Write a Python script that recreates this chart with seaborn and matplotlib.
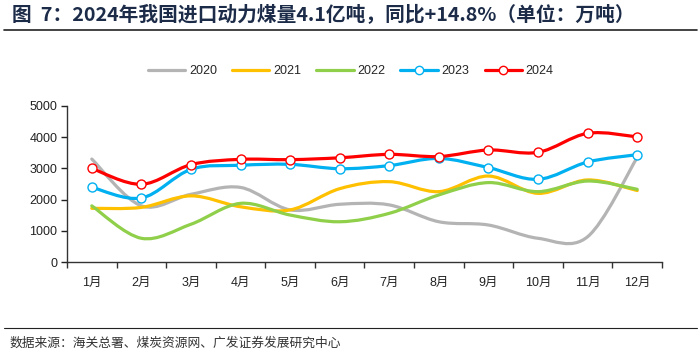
import numpy as np
import pandas as pd
import matplotlib
matplotlib.use("Agg")
import matplotlib.pyplot as plt
from matplotlib.path import Path
from matplotlib.patches import PathPatch
from matplotlib.lines import Line2D
import seaborn as sns

months = ['1月', '2月', '3月', '4月', '5月', '6月', '7月', '8月', '9月', '10月', '11月', '12月']
y2020 = [3300, 1800, 2170, 2390, 1670, 1850, 1830, 1290, 1185, 760, 810, 3350]
y2021 = [1720, 1750, 2120, 1770, 1670, 2350, 2575, 2255, 2755, 2200, 2630, 2290]
y2022 = [1800, 760, 1210, 1880, 1505, 1290, 1560, 2150, 2545, 2255, 2595, 2330]
y2023 = [2395, 2050, 2970, 3100, 3130, 2990, 3090, 3320, 3025, 2650, 3205, 3440]
y2024 = [3000, 2490, 3120, 3290, 3280, 3340, 3450, 3380, 3590, 3515, 4125, 4010]

series = {'2020': y2020, '2021': y2021, '2022': y2022, '2023': y2023, '2024': y2024}
colors = {'2020': '#b4b4b4', '2021': '#ffc000', '2022': '#8fcf4a',
          '2023': '#00b0f0', '2024': '#ff0000'}
with_marker = ['2023', '2024']

sns.set_theme(style='ticks')
plt.rcParams['font.family'] = ['Liberation Sans', 'Noto Sans CJK SC', 'DejaVu Sans']

fig = plt.figure(figsize=(7, 3.57), dpi=100)
ax = fig.add_axes([0.0957, 0.2661, 0.85, 0.437])

x = np.arange(len(months))


def smooth_path(xs, ys):
    # Excel-style smoothed line: bezier segments through every point
    pts = np.column_stack([xs, ys]).astype(float)
    n = len(pts)
    verts = [pts[0]]
    codes = [Path.MOVETO]
    for i in range(n - 1):
        p0 = pts[max(i - 1, 0)]
        p1 = pts[i]
        p2 = pts[i + 1]
        p3 = pts[min(i + 2, n - 1)]
        verts += [p1 + (p2 - p0) / 6, p2 - (p3 - p1) / 6, p2]
        codes += [Path.CURVE4] * 3
    return Path(verts, codes)


for name, vals in series.items():
    patch = PathPatch(smooth_path(x, vals), facecolor='none', edgecolor=colors[name],
                      lw=2.3, capstyle='round', joinstyle='round', zorder=2)
    ax.add_patch(patch)

df = pd.DataFrame({'x': np.tile(x, len(with_marker)),
                   'v': np.concatenate([series[k] for k in with_marker]),
                   'year': np.repeat(with_marker, len(x))})
for k in with_marker:
    sub = df[df['year'] == k]
    sns.scatterplot(data=sub, x='x', y='v', ax=ax, s=42, color='white',
                    edgecolor=colors[k], linewidth=1.0, zorder=3, legend=False)

ax.set_xlim(-0.5, 11.5)
ax.set_ylim(0, 5000)
ax.set_yticks(range(0, 5001, 1000))
ax.set_xticks(np.arange(-0.5, 12, 1))
ax.set_xticklabels([])
ax.set_xticks(x, minor=True)
ax.set_xticklabels(months, minor=True)
ax.tick_params(axis='x', which='minor', length=0, pad=11, labelsize=9, colors='#222222')
ax.tick_params(axis='x', which='major', length=4, width=1, direction='out', color='#333333')
ax.tick_params(axis='y', length=4, width=1, direction='out', labelsize=9,
               colors='#222222', pad=3)
ax.set_xlabel('')
ax.set_ylabel('')
for s in ['top', 'right']:
    ax.spines[s].set_visible(False)
for s in ['left', 'bottom']:
    ax.spines[s].set_color('#333333')
    ax.spines[s].set_linewidth(1.0)

handles = []
for name in series:
    if name in with_marker:
        h = Line2D([], [], color=colors[name], lw=2.3, marker='o', markersize=6,
                   markerfacecolor='white', markeredgecolor=colors[name], markeredgewidth=1.0)
    else:
        h = Line2D([], [], color=colors[name], lw=2.3)
    handles.append(h)
fig.legend(handles, list(series.keys()), loc='center', bbox_to_anchor=(0.501, 0.80),
           ncol=5, frameon=False, fontsize=9, handlelength=3.0, handletextpad=0.3,
           columnspacing=1.2)

fig.text(0.017, 0.958, '图  7：2024年我国进口动力煤量4.1亿吨，同比+14.8%（单位：万吨）',
         fontsize=14.2, fontweight='bold', color='#1b2b48', va='center', ha='left',
         family=['Noto Sans CJK SC', 'DejaVu Sans'])
fig.add_artist(Line2D([0.005, 0.995], [0.916, 0.916], color='#222222', lw=1.2))
fig.add_artist(Line2D([0.005, 0.995], [0.081, 0.081], color='#222222', lw=0.8))
fig.text(0.014, 0.039, '数据来源：海关总署、煤炭资源网、广发证券发展研究中心',
         fontsize=9.2, color='#333333', va='center', ha='left',
         family=['Noto Sans CJK SC', 'DejaVu Sans'])

fig.savefig('out.png', dpi=100)
